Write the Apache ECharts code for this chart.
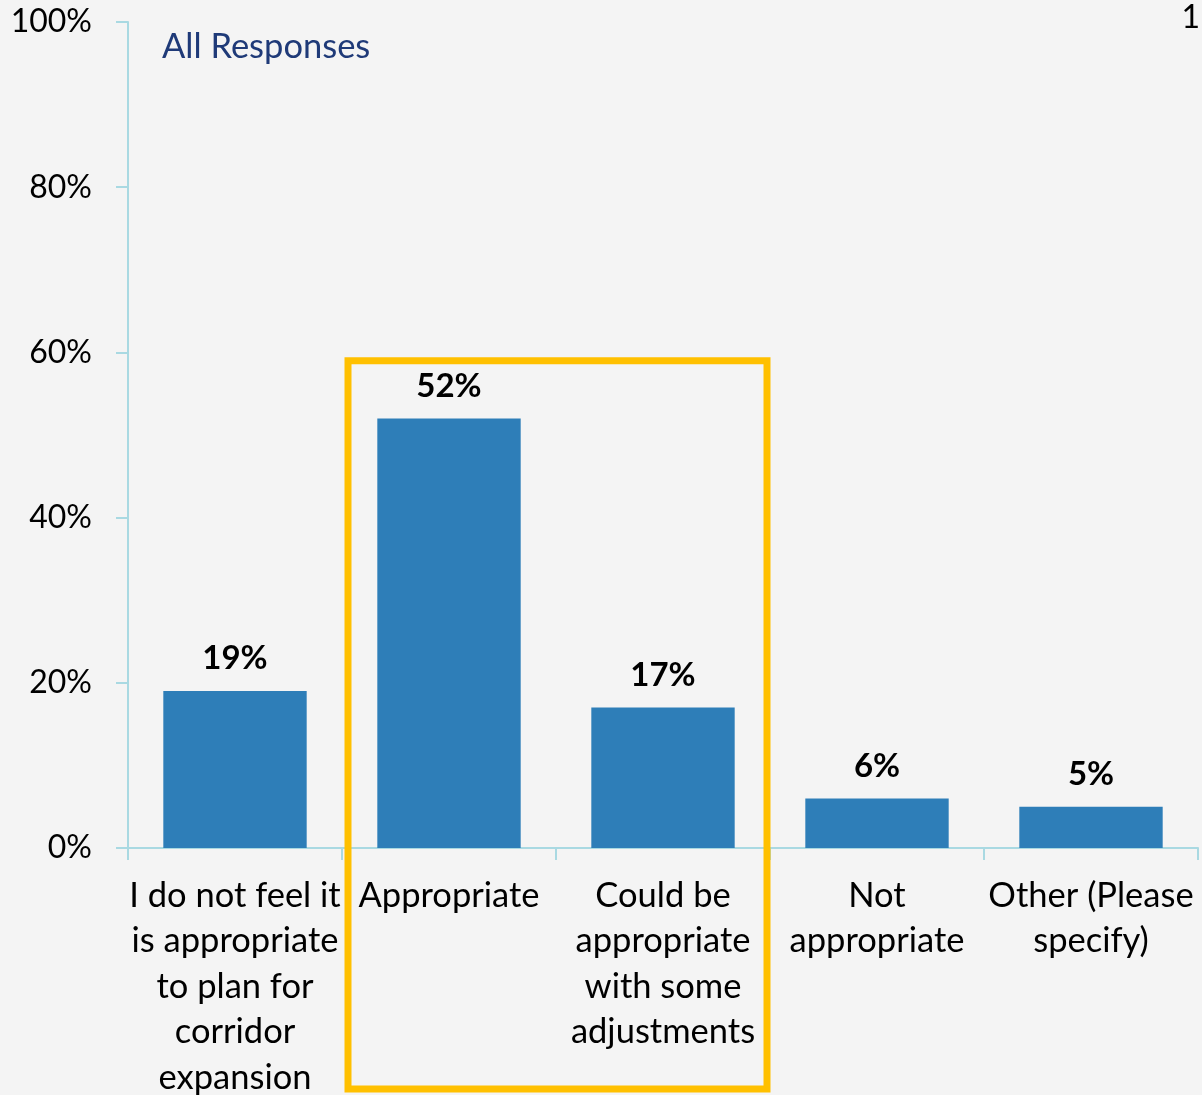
<!DOCTYPE html>
<html>
<head>
<meta charset="utf-8">
<script src="https://cdn.jsdelivr.net/npm/echarts@6/dist/echarts.min.js"></script>
<style>
  html, body { margin: 0; padding: 0; background: #f4f4f4; }
  #chart { width: 1202px; height: 1095px; }
</style>
</head>
<body>
<div id="chart"></div>
<script>
// Survey answers and their share of all responses (%)
const categories = [
  'I do not feel it\nis appropriate\nto plan for\ncorridor\nexpansion',
  'Appropriate',
  'Could be\nappropriate\nwith some\nadjustments',
  'Not\nappropriate',
  'Other (Please\nspecify)'
];
const shares = [19, 52, 17, 6, 5];
const yTicks = [0, 20, 40, 60, 80, 100];

const FONT = 'Lato';
const axisBlue = '#a9d9e2';

const chart = echarts.init(document.getElementById('chart'));

const option = {
  backgroundColor: '#f4f4f4',
  animation: false,
  grid: { left: 128, right: 4, top: 22, bottom: 247, containLabel: false, outerBoundsMode: 'none' },
  xAxis: {
    type: 'category',
    data: categories,
    axisLine: { lineStyle: { color: axisBlue, width: 2 } },
    axisTick: { show: true, length: 12, lineStyle: { color: axisBlue, width: 2 } },
    axisLabel: {
      interval: 0,
      margin: 25,
      color: '#000',
      fontFamily: FONT,
      fontSize: 34.5,
      lineHeight: 45.5
    }
  },
  yAxis: {
    type: 'value',
    min: yTicks[0],
    max: yTicks[yTicks.length - 1],
    interval: 20,
    splitLine: { show: false },
    axisLine: { show: true, lineStyle: { color: axisBlue, width: 2 } },
    axisTick: { show: true, length: 12, lineStyle: { color: axisBlue, width: 2 } },
    axisLabel: {
      margin: 36,
      color: '#000',
      fontFamily: FONT,
      fontSize: 32,
      formatter: v => v + '%'
    }
  },
  series: [{
    type: 'bar',
    data: shares,
    barWidth: '67%',
    itemStyle: { color: '#2e7eb8' },
    label: {
      show: true,
      position: 'top',
      distance: 16,
      color: '#000',
      fontFamily: FONT,
      fontWeight: 'bold',
      fontSize: 33,
      formatter: p => p.value + '%'
    }
  }]
};

chart.setOption(option);

// Highlight frame around the two "appropriate" answers, placed from the axes
const leftEdge = chart.convertToPixel({ xAxisIndex: 0 }, 1) - 107 + 6;
const rightEdge = chart.convertToPixel({ xAxisIndex: 0 }, 2) + 107 - 3;
const topEdge = chart.convertToPixel({ yAxisIndex: 0 }, 59);

chart.setOption({
  graphic: [
    {
      type: 'rect',
      shape: { x: leftEdge, y: topEdge, width: rightEdge - leftEdge, height: 1089 - topEdge },
      style: { fill: 'none', stroke: '#ffc000', lineWidth: 7 },
      z: 100
    },
    {
      type: 'text',
      left: 162,
      top: 29,
      style: { text: 'All Responses', fill: '#1f3a78', font: '34.5px Lato' }
    },
    {
      type: 'text',
      right: 2,
      top: 2,
      style: { text: '1', fill: '#000', font: '32px Lato' }
    }
  ]
});
</script>
</body>
</html>
